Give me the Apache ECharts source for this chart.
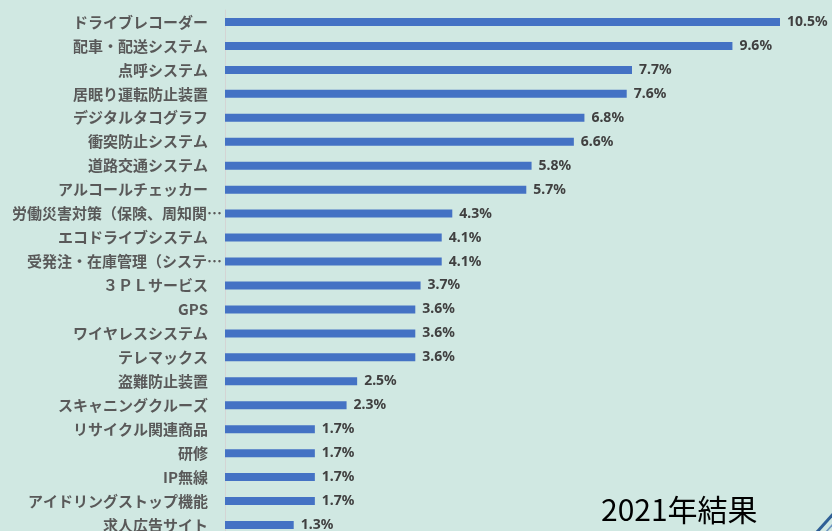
<!DOCTYPE html>
<html>
<head>
<meta charset="utf-8">
<style>
html,body{margin:0;padding:0;background:#d0e8e2;}
#c{width:832px;height:531px;}
</style>
<script src="https://cdn.jsdelivr.net/npm/echarts@6/dist/echarts.min.js"></script>
</head>
<body>
<div id="c"></div>
<script>
const categories = [
  'ドライブレコーダー','配車・配送システム','点呼システム','居眠り運転防止装置',
  'デジタルタコグラフ','衝突防止システム','道路交通システム','アルコールチェッカー',
  '労働災害対策（保険、周知関…','エコドライブシステム','受発注・在庫管理（システ…',
  '３ＰＬサービス','GPS','ワイヤレスシステム','テレマックス','盗難防止装置',
  'スキャニングクルーズ','リサイクル関連商品','研修','IP無線',
  'アイドリングストップ機能','求人広告サイト'
];
const values = [10.5,9.6,7.7,7.6,6.8,6.6,5.8,5.7,4.3,4.1,4.1,3.7,3.6,3.6,3.6,2.5,2.3,1.7,1.7,1.7,1.7,1.3];
const caption = '2021年結果';

const catData = categories.map(c => c.endsWith('…')
  ? {value: c, textStyle: {padding: [0, -14, 0, 0]}}
  : c);

const chart = echarts.init(document.getElementById('c'));
chart.setOption({
  backgroundColor: '#d0e8e2',
  animation: false,
  grid: {left: 225, right: 52, top: 10, height: 527, outerBoundsMode: 'none', containLabel: false},
  xAxis: {
    type: 'value', min: 0, max: 10.5, show: false
  },
  yAxis: {
    type: 'category', data: catData, inverse: true,
    axisLine: {show: true, lineStyle: {color: '#d4d4d4', width: 1}},
    axisTick: {show: false},
    axisLabel: {
      margin: 17, color: '#595959', fontSize: 15, fontWeight: 'bold',
      fontFamily: 'Noto Sans CJK JP', interval: 0
    }
  },
  series: [{
    type: 'bar', data: values, barWidth: 8,
    itemStyle: {color: '#4472c4'},
    label: {
      show: true, position: 'right', distance: 7,
      formatter: p => p.value.toFixed(1) + '%',
      color: '#404040', fontSize: 14, fontWeight: 'bold',
      fontFamily: 'Noto Sans, DejaVu Sans'
    }
  }],
  graphic: [
    {type: 'text', left: 601, top: 495, style: {text: caption, fontSize: 30, fill: '#000', fontFamily: 'Noto Sans CJK JP'}},
    {type: 'line', shape: {x1: 817, y1: 532, x2: 834, y2: 513}, style: {stroke: '#2f5f96', lineWidth: 3}},
    {type: 'line', shape: {x1: 826, y1: 532, x2: 834, y2: 523}, style: {stroke: '#6d95c0', lineWidth: 1.5}}
  ]
});
</script>
</body>
</html>
